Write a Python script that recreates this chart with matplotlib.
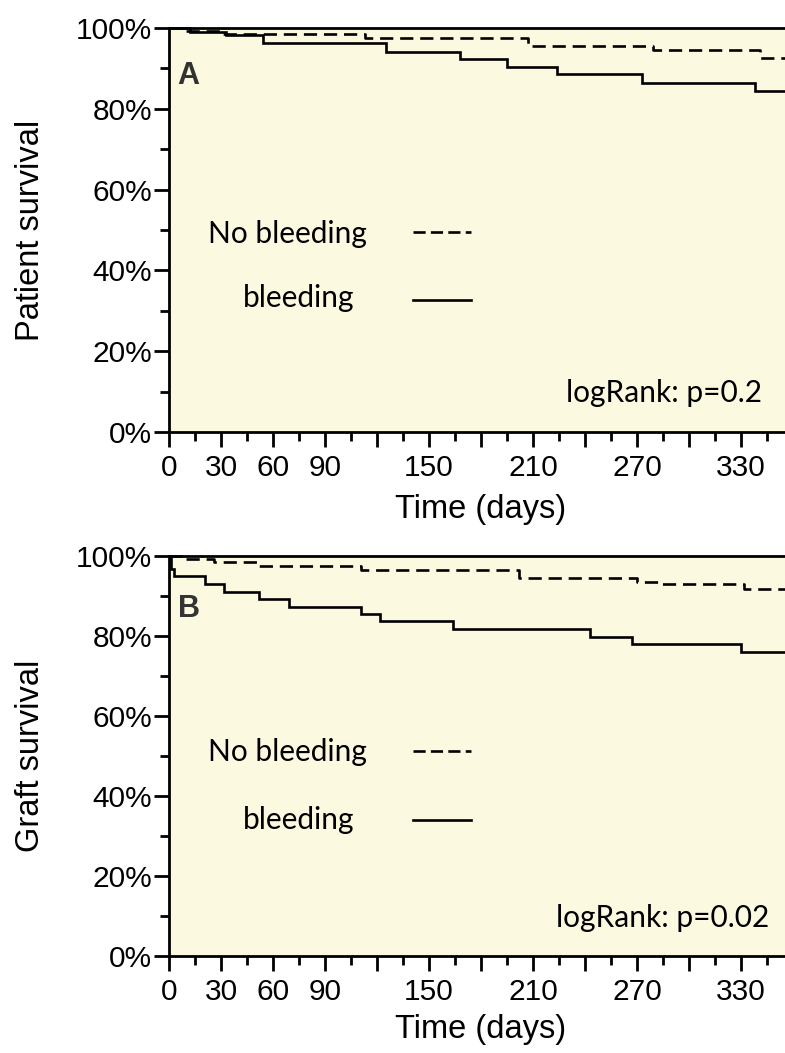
import matplotlib
matplotlib.use("Agg")
import matplotlib.pyplot as plt
import numpy as np

# ---------------- data ----------------
# Panel A: patient survival (Kaplan-Meier steps: day, survival %)
a_nobleed_days = [0, 10, 30, 113, 207, 279, 341]
a_nobleed_surv = [100, 99.3, 98.5, 97.6, 95.5, 94.6, 92.6]
a_bleed_days = [0, 12, 33, 54, 125, 168, 195, 224, 273, 338]
a_bleed_surv = [100, 99.1, 98.3, 96.2, 94.1, 92.3, 90.3, 88.5, 86.5, 84.4]

# Panel B: graft survival
b_nobleed_days = [0, 8, 26, 52, 111, 202, 270, 283, 332]
b_nobleed_surv = [100, 99.35, 98.5, 97.5, 96.5, 94.6, 93.6, 92.9, 91.7]
b_bleed_days = [0, 1, 3, 21, 32, 52, 69, 111, 122, 164, 243, 267, 330]
b_bleed_surv = [100, 96.7, 95.0, 93.1, 91.1, 89.2, 87.25, 85.4, 83.7, 81.7, 79.85, 77.9, 76.1]

x_labelled = [0, 30, 60, 90, 150, 210, 270, 330]
y_ticks = [0, 20, 40, 60, 80, 100]
panel_letters = ["A", "B"]
y_titles = ["Patient survival", "Graft survival"]
pvalues = ["logRank: p=0.2", "logRank: p=0.02"]
legend_names = ["No bleeding", "bleeding"]

# ---------------- style ----------------
W, H = 785, 1053
XMAX = 360
BG = "#FCF9E1"
LW = 1.9
DASH = (0, (5.0, 2.6))
LEG_DASH = (0, (4.6, 2.0))
tick_font = "Liberation Sans"
label_font = "Liberation Sans"
legend_font = "Lato"

fig = plt.figure(figsize=(W / 100, H / 100), dpi=100)

panels = [
    dict(top=28, bottom=432, nb=(a_nobleed_days, a_nobleed_surv), b=(a_bleed_days, a_bleed_surv),
         text_y=(46.8, 30.9), line_y=(49.5, 32.7), p_pos=(342, 7.5), letter_y=88.0, xlab_y=-0.153),
    dict(top=556, bottom=956, nb=(b_nobleed_days, b_nobleed_surv), b=(b_bleed_days, b_bleed_surv),
         text_y=(48.75, 31.75), line_y=(51.2, 34.0), p_pos=(346.5, 7.2), letter_y=86.7, xlab_y=-0.146),
]

for i, p in enumerate(panels):
    ax = fig.add_axes([169 / W, 1 - p["bottom"] / H, 624 / W, (p["bottom"] - p["top"]) / H])
    ax.set_facecolor(BG)
    ax.set_xlim(0, XMAX)
    ax.set_ylim(0, 100)

    for (days, surv), ls in [(p["nb"], DASH), (p["b"], "-")]:
        xs = list(days) + [XMAX]
        ys = list(surv) + [surv[-1]]
        ax.step(xs, ys, where="post", color="black", lw=LW, linestyle=ls,
                clip_on=False, zorder=3, solid_joinstyle="miter")

    for s in ["top", "left", "bottom"]:
        ax.spines[s].set_linewidth(2.0)
    ax.spines["right"].set_visible(False)

    ax.set_xticks(np.arange(0, XMAX + 1, 30))
    ax.set_xticklabels([str(v) if v in x_labelled else "" for v in np.arange(0, XMAX + 1, 30)])
    ax.set_xticks(np.arange(15, XMAX, 30), minor=True)
    ax.set_yticks(y_ticks)
    ax.set_yticklabels([f"{v}%" for v in y_ticks])
    ax.set_yticks(np.arange(10, 100, 20), minor=True)
    ax.tick_params(which="major", direction="out", length=10.8, width=2.0, labelsize=21.5, pad=1.5)
    ax.tick_params(axis="x", which="major", pad=5)
    ax.tick_params(which="minor", direction="out", length=6.5, width=2.0)
    ax.tick_params(axis="x", which="both", top=False)
    for lab in ax.get_xticklabels() + ax.get_yticklabels():
        lab.set_fontfamily(tick_font)

    ax.set_xlabel("Time (days)", fontsize=23.5, family=label_font)
    ax.xaxis.set_label_coords(0.5, p["xlab_y"])
    ax.set_ylabel(y_titles[i], fontsize=23.5, family=label_font)
    ax.yaxis.set_label_coords(-0.197, 0.5)

    ax.text(5, p["letter_y"], panel_letters[i], fontsize=22, fontweight="bold", color="#333333",
            family="Liberation Sans", ha="left", va="center")

    # legend drawn inside plot
    t_nb, t_b = p["text_y"]
    l_nb, l_b = p["line_y"]
    ax.text(22.5, t_nb, legend_names[0], fontsize=21.5, family=legend_font, ha="left", va="baseline")
    ax.text(42.7, t_b, legend_names[1], fontsize=21.5, family=legend_font, ha="left", va="baseline")
    ax.plot([141, 174.5], [l_nb, l_nb], color="black", lw=LW, linestyle=LEG_DASH)
    ax.plot([141, 174.5], [l_b, l_b], color="black", lw=LW)

    px, py = p["p_pos"]
    ax.text(px, py, pvalues[i], fontsize=21.5, family=legend_font, ha="right", va="baseline")

fig.savefig("out.png", dpi=100)
